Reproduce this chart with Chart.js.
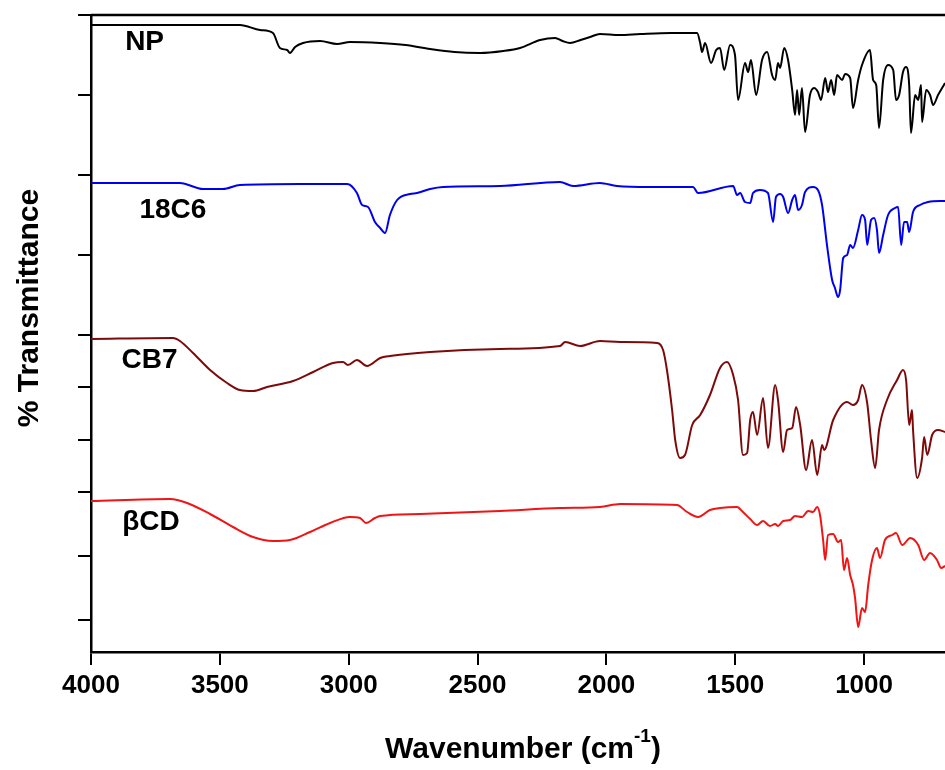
<!DOCTYPE html>
<html>
<head>
<meta charset="utf-8">
<title>FTIR spectra</title>
<script src="https://cdn.jsdelivr.net/npm/chart.js@4.4.1/dist/chart.umd.min.js"></script>
<style>
    html, body { margin: 0; padding: 0; background: #fff; }
    #wrap { width: 945px; height: 770px; }
</style>
</head>
<body>
<div id="wrap"><canvas id="ftir-chart" width="945" height="770"></canvas></div>
<script>
// Wavenumber ticks (cm-1) and the unlabeled transmittance ticks (offset units)
const X_TICKS = [4000, 3500, 3000, 2500, 2000, 1500, 1000];
const Y_TICKS = [637, 557, 477, 397, 317, 265, 212, 160, 96, 32];

// NP
const npWn = [4000,3422,3344,3294,3267,3239,3228,3208,3177,3111,3045,2995,2878,2780,2684,2590,2490,2400,2335,2257,
    2199,2170,2141,2100,2063,2025,1950,1869,1750,1648,1636,1629,1617,1594,1574,1559,1543,1520,1501,1489,
    1462,1450,1439,1419,1396,1376,1357,1345,1334,1326,1310,1295,1279,1268,1260,1252,1241,1229,1210,1194,
    1179,1167,1151,1140,1128,1116,1105,1085,1074,1054,1043,1023,1008,977,965,953,942,926,907,887,
    876,864,849,837,825,818,802,790,779,775,759,744,732,713,686];
const npT = [627,627,622,619,604,602,599,605,609,611,608,610,609,607,603,600,599,601,604,612,
    614,611,609,612,615,618,617,618,619,619,609,600,609,589,602,604,582,607,597,552,
    589,580,592,557,592,600,577,572,589,584,604,592,562,537,562,537,564,520,557,564,
    560,552,574,560,572,557,577,572,578,574,544,572,587,602,572,567,524,572,587,582,
    552,557,580,585,567,519,557,552,567,530,562,557,547,557,569];

// 18C6
const c18Wn = [4000,3655,3565,3488,3422,3189,3006,2968,2948,2925,2898,2878,2859,2840,2812,2762,2735,2684,2634,2413,
    2180,2129,2025,1959,1831,1664,1644,1508,1493,1481,1462,1442,1431,1404,1373,1353,1342,1326,1314,1295,
    1279,1268,1256,1241,1229,1198,1179,1163,1144,1124,1113,1101,1093,1081,1066,1054,1043,1023,1008,996,
    988,973,961,950,942,926,907,880,868,856,845,833,825,810,783,752,705,686];
const c18T = [469,469,463,463,467,468,468,459,447,445,430,424,419,437,452,458,459,463,465,466,
    470,466,469,466,465,465,459,466,457,459,450,449,459,462,459,430,455,458,455,439,
    452,457,442,447,460,465,462,447,407,372,364,355,362,394,397,407,404,422,437,432,
    407,432,434,422,399,417,437,444,445,407,430,430,420,440,447,450,451,451];

// CB7
const cb7Wn = [4000,3682,3655,3604,3538,3472,3422,3371,3317,3216,3138,3061,3022,3003,2968,2929,2878,2840,2684,2413,
    2180,2160,2102,2025,1947,1803,1780,1765,1745,1733,1714,1695,1667,1636,1598,1559,1532,1508,1489,1470,
    1454,1442,1431,1415,1392,1373,1345,1334,1314,1299,1279,1264,1248,1225,1202,1182,1163,1155,1120,1066,
    1043,1023,1008,988,973,957,942,911,872,849,837,825,814,810,794,775,767,755,736,713,686];
const cb7T = [313,314,311,299,282,269,262,261,265,271,280,289,290,287,292,286,294,296,300,303,
    306,310,306,311,310,309,302,282,242,212,194,197,227,237,257,284,290,277,252,197,
    199,232,240,217,254,204,267,252,200,222,224,245,227,182,212,177,207,202,232,250,
    247,252,267,249,212,184,222,252,272,282,272,227,242,222,174,194,215,197,217,222,220];

// beta-CD
const bcdWn = [4000,3693,3627,3538,3449,3371,3294,3228,3150,3072,2995,2956,2933,2898,2878,2723,2413,2180,2025,1947,
    1726,1687,1644,1598,1559,1493,1470,1442,1415,1392,1365,1345,1334,1314,1287,1268,1241,1217,1198,1182,
    1171,1159,1151,1140,1120,1101,1089,1078,1066,1054,1043,1035,1023,1008,996,984,969,950,938,919,
    891,876,852,821,790,767,744,717,701,686];
const bcdT = [151,153,149,138,125,115,111,112,120,129,135,134,129,134,136,138,141,144,145,148,
    147,140,135,142,144,145,140,133,127,131,126,128,126,131,132,136,135,141,140,145,
    137,112,92,117,118,110,112,82,94,77,67,54,25,44,40,67,92,104,94,112,
    117,119,107,114,107,92,99,92,84,86];

// Curve labels, anchored in data units
const LABELS = ['NP', '18C6', 'CB7', '\u03B2CD'];
const LABEL_WN = [3792, 3682, 3773, 3767];
const LABEL_T = [610, 442, 292, 130];

const FONT = "'Liberation Sans', Arial, Helvetica, sans-serif";

const toPoints = (wn, t) => wn.map((w, i) => ({ x: w, y: t[i] }));

// Top frame line, axis titles and curve labels
const decorations = {
    id: 'decorations',
    afterDraw(chart) {
        const { ctx, chartArea, scales } = chart;
        ctx.save();

        // top border
        ctx.strokeStyle = '#000';
        ctx.lineWidth = 2.5;
        ctx.beginPath();
        ctx.moveTo(chartArea.left, chartArea.top);
        ctx.lineTo(chartArea.right, chartArea.top);
        ctx.stroke();

        ctx.fillStyle = '#000';

        // curve labels
        ctx.font = `bold 28px ${FONT}`;
        ctx.textAlign = 'center';
        ctx.textBaseline = 'middle';
        LABELS.forEach((txt, i) => {
            ctx.fillText(txt, scales.x.getPixelForValue(LABEL_WN[i]), scales.y.getPixelForValue(LABEL_T[i]));
        });

        // y title
        ctx.save();
        ctx.translate(30, 308);
        ctx.rotate(-Math.PI / 2);
        ctx.font = `bold 30px ${FONT}`;
        ctx.fillText('% Transmittance', 0, 0);
        ctx.restore();

        // x title with superscript
        ctx.font = `bold 30px ${FONT}`;
        const main = 'Wavenumber (cm';
        const wMain = ctx.measureText(main).width;
        ctx.font = `bold 19px ${FONT}`;
        const wSup = ctx.measureText('-1').width;
        ctx.font = `bold 30px ${FONT}`;
        const wClose = ctx.measureText(')').width;
        let x = 523 - (wMain + wSup + wClose) / 2;
        const y = 750;
        ctx.textAlign = 'left';
        ctx.fillText(main, x, y);
        x += wMain;
        ctx.font = `bold 19px ${FONT}`;
        ctx.fillText('-1', x, y - 13);
        x += wSup;
        ctx.font = `bold 30px ${FONT}`;
        ctx.fillText(')', x, y);

        ctx.restore();
    }
};

const axisGrid = {
    drawOnChartArea: false,
    drawTicks: true,
    tickLength: 13,
    lineWidth: 2,
    color: '#000'
};

const chart = new Chart(document.getElementById('ftir-chart').getContext('2d'), {
    type: 'line',
    data: {
        datasets: [
            { label: 'NP', data: toPoints(npWn, npT), borderColor: '#000000' },
            { label: '18C6', data: toPoints(c18Wn, c18T), borderColor: '#0000f0' },
            { label: 'CB7', data: toPoints(cb7Wn, cb7T), borderColor: '#7d0a0a' },
            { label: '\u03B2CD', data: toPoints(bcdWn, bcdT), borderColor: '#f01414' }
        ]
    },
    options: {
        responsive: false,
        animation: false,
        layout: { padding: { top: 15, right: 0, bottom: 0, left: 0 } },
        plugins: {
            legend: { display: false },
            tooltip: { enabled: false }
        },
        elements: {
            point: { radius: 0 },
            line: { borderWidth: 2, cubicInterpolationMode: 'monotone', fill: false }
        },
        scales: {
            x: {
                type: 'linear',
                reverse: true,
                min: 686,
                max: 4000,
                afterBuildTicks: (scale) => { scale.ticks = X_TICKS.map(v => ({ value: v })); },
                afterFit: (scale) => { scale.height = 118; },
                grid: axisGrid,
                border: { display: true, color: '#000', width: 2.5 },
                ticks: {
                    color: '#000',
                    font: { family: FONT, size: 26, weight: 'bold' },
                    padding: 5,
                    maxRotation: 0,
                    autoSkip: false,
                    callback: (value) => String(value)
                }
            },
            y: {
                type: 'linear',
                min: 0,
                max: 637,
                afterBuildTicks: (scale) => { scale.ticks = Y_TICKS.map(v => ({ value: v })); },
                afterFit: (scale) => { scale.width = 91; },
                grid: axisGrid,
                border: { display: true, color: '#000', width: 2.5 },
                ticks: { display: false }
            }
        }
    },
    plugins: [decorations]
});
</script>
</body>
</html>
